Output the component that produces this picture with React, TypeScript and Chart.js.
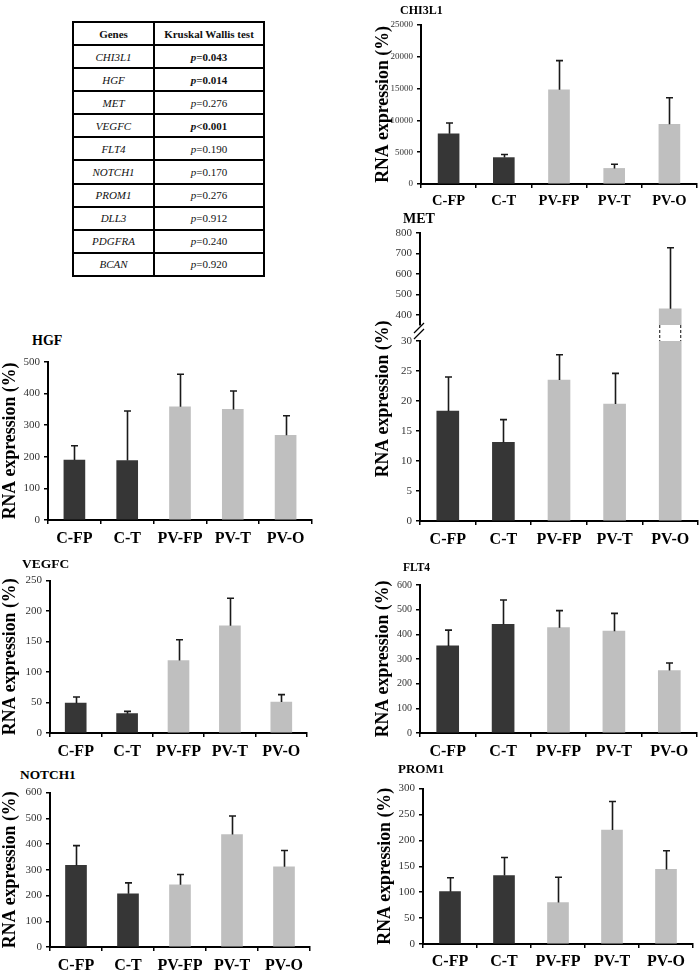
import React, { useEffect, useRef } from 'react';
import { Chart, registerables } from 'chart.js';

Chart.register(...registerables);

// ---------- data ----------
const categories = ['C-FP', 'C-T', 'PV-FP', 'PV-T', 'PV-O'];
const barColors = ['#363636', '#363636', '#bfbfbf', '#bfbfbf', '#bfbfbf'];

const chi3l1Means = [7900, 4150, 14800, 2450, 9400];
const chi3l1ErrTops = [9600, 4650, 19400, 3100, 13550];
const chi3l1Ticks = [0, 5000, 10000, 15000, 20000, 25000];

const metMeans = [18.3, 13.1, 23.5, 19.5, 429];
const metErrTops = [24, 16.9, 27.7, 24.6, 728];
const metLowerTicks = [0, 5, 10, 15, 20, 25, 30];
const metUpperTicks = [400, 500, 600, 700, 800];

const hgfMeans = [190, 188, 358, 350, 268];
const hgfErrTops = [235, 345, 461, 408, 330];
const hgfTicks = [0, 100, 200, 300, 400, 500];

const vegfcMeans = [49, 31.7, 119, 176, 50.7];
const vegfcErrTops = [59, 35.5, 153, 221, 63];
const vegfcTicks = [0, 50, 100, 150, 200, 250];

const flt4Means = [353, 441, 427, 413, 253];
const flt4ErrTops = [417, 539, 496, 485, 284];
const flt4Ticks = [0, 100, 200, 300, 400, 500, 600];

const notch1Means = [317, 207, 242, 437, 312];
const notch1ErrTops = [394, 249, 282, 509, 375];
const notch1Ticks = [0, 100, 200, 300, 400, 500, 600];

const prom1Means = [101, 132, 80, 220, 144];
const prom1ErrTops = [128, 167, 129, 275, 180];
const prom1Ticks = [0, 50, 100, 150, 200, 250, 300];

const tableGenes = ['CHI3L1', 'HGF', 'MET', 'VEGFC', 'FLT4', 'NOTCH1', 'PROM1', 'DLL3', 'PDGFRA', 'BCAN'];
const tablePValues = ['=0.043', '=0.014', '=0.276', '<0.001', '=0.190', '=0.170', '=0.276', '=0.912', '=0.240', '=0.920'];
const tableSignificant = [true, true, false, true, false, false, false, false, false, false];

const yTitleText = 'RNA expression (%)';

// ---------- layout ----------
const FONT = '"Liberation Serif", "Times New Roman", Times, serif';
const Y_TITLE_SIZE = 17.8;

type Spec = {
  id: string;
  left: number; top: number; width: number; height: number;
  axisX: number; plotRight: number; plotTop: number; plotBottom: number;
  yMin: number; yMax: number; ticks: number[];
  means: (number | null)[]; errs: (number | null)[];
  tickFont: number; xFont: number; xPad: number; showX: boolean;
  yTitle: boolean; yTitleX: number;
  barThickness: number;
  extra?: any;
};

const MET_GAP = 16;
const MET_TITLE_X = 383;
const MET_TITLE_Y = 399;

const metBreakPlugin = (canvasLeft: number, canvasTop: number) => ({
  id: 'metBreak',
  afterDraw(chart: any) {
    const { ctx, chartArea } = chart;
    const meta = chart.getDatasetMeta(0);
    const bar: any = meta.data[4];
    const gapTop = chartArea.top - MET_GAP;
    const half = bar.width / 2;
    ctx.save();
    ctx.strokeStyle = '#333';
    ctx.lineWidth = 1.2;
    ctx.setLineDash([3, 2]);
    [bar.x - half + 0.5, bar.x + half - 0.5].forEach((x: number) => {
      ctx.beginPath();
      ctx.moveTo(x, gapTop);
      ctx.lineTo(x, chartArea.top);
      ctx.stroke();
    });
    ctx.setLineDash([]);
    const ax = chartArea.left;
    ctx.strokeStyle = '#000';
    ctx.lineWidth = 1.2;
    [[8, -2], [14, 4]].forEach(([a, b]) => {
      ctx.beginPath();
      ctx.moveTo(ax - 6, gapTop + a);
      ctx.lineTo(ax + 4, gapTop + b);
      ctx.stroke();
    });
    ctx.font = `bold ${Y_TITLE_SIZE}px ${FONT}`;
    ctx.fillStyle = '#000';
    ctx.textAlign = 'center';
    ctx.textBaseline = 'middle';
    ctx.translate(MET_TITLE_X - canvasLeft, MET_TITLE_Y - canvasTop);
    ctx.rotate(-Math.PI / 2);
    ctx.fillText(yTitleText, 0, 0);
    ctx.restore();
  },
});

const specs: Spec[] = [
  {
    id: 'chi3l1', left: 360, top: 0, width: 340, height: 215,
    axisX: 421, plotRight: 697, plotTop: 25, plotBottom: 184,
    yMin: 0, yMax: 25000, ticks: chi3l1Ticks,
    means: chi3l1Means, errs: chi3l1ErrTops,
    tickFont: 9, xFont: 14.5, xPad: 5, showX: true,
    yTitle: true, yTitleX: 383, barThickness: 21,
  },
  {
    id: 'metUpper', left: 360, top: 222, width: 340, height: 123,
    axisX: 420, plotRight: 698, plotTop: 233, plotBottom: 325,
    yMin: 350, yMax: 800, ticks: metUpperTicks,
    means: metMeans.map((v) => (v > 350 ? v : null)),
    errs: metErrTops.map((v) => (v > 350 ? v : null)),
    tickFont: 11, xFont: 16, xPad: 5, showX: false,
    yTitle: false, yTitleX: 383, barThickness: 22,
  },
  {
    id: 'metLower', left: 360, top: 222, width: 340, height: 338,
    axisX: 420, plotRight: 698, plotTop: 341, plotBottom: 521,
    yMin: 0, yMax: 30, ticks: metLowerTicks,
    means: metMeans, errs: metErrTops.map((v) => (v <= 30 ? v : null)),
    tickFont: 11, xFont: 16, xPad: 5, showX: true,
    yTitle: false, yTitleX: 383, barThickness: 22,
    extra: metBreakPlugin(360, 222),
  },
  {
    id: 'hgf', left: 0, top: 350, width: 340, height: 210,
    axisX: 48, plotRight: 312, plotTop: 362, plotBottom: 520,
    yMin: 0, yMax: 500, ticks: hgfTicks,
    means: hgfMeans, errs: hgfErrTops,
    tickFont: 11, xFont: 16, xPad: 5, showX: true,
    yTitle: true, yTitleX: 10, barThickness: 21,
  },
  {
    id: 'vegfc', left: 0, top: 570, width: 340, height: 195,
    axisX: 50, plotRight: 307, plotTop: 580, plotBottom: 733,
    yMin: 0, yMax: 250, ticks: vegfcTicks,
    means: vegfcMeans, errs: vegfcErrTops,
    tickFont: 11, xFont: 16, xPad: 5, showX: true,
    yTitle: true, yTitleX: 10, barThickness: 21,
  },
  {
    id: 'flt4', left: 360, top: 575, width: 340, height: 190,
    axisX: 420, plotRight: 697, plotTop: 585, plotBottom: 733,
    yMin: 0, yMax: 600, ticks: flt4Ticks,
    means: flt4Means, errs: flt4ErrTops,
    tickFont: 10, xFont: 16, xPad: 5, showX: true,
    yTitle: true, yTitleX: 383, barThickness: 22,
  },
  {
    id: 'notch1', left: 0, top: 782, width: 340, height: 194,
    axisX: 50, plotRight: 310, plotTop: 792, plotBottom: 947,
    yMin: 0, yMax: 600, ticks: notch1Ticks,
    means: notch1Means, errs: notch1ErrTops,
    tickFont: 11, xFont: 16, xPad: 5, showX: true,
    yTitle: true, yTitleX: 10, barThickness: 21,
  },
  {
    id: 'prom1', left: 360, top: 778, width: 340, height: 198,
    axisX: 423, plotRight: 693, plotTop: 788, plotBottom: 944,
    yMin: 0, yMax: 300, ticks: prom1Ticks,
    means: prom1Means, errs: prom1ErrTops,
    tickFont: 11, xFont: 16, xPad: 4.5, showX: true,
    yTitle: true, yTitleX: 385, barThickness: 21,
  },
];

const geneTitles = [
  { text: 'CHI3L1', x: 400, y: 10, size: 12 },
  { text: 'MET', x: 403, y: 219, size: 14 },
  { text: 'HGF', x: 32, y: 341, size: 14 },
  { text: 'VEGFC', x: 22, y: 564, size: 13.5 },
  { text: 'FLT4', x: 403, y: 568, size: 11.5 },
  { text: 'NOTCH1', x: 20, y: 775, size: 13.4 },
  { text: 'PROM1', x: 398, y: 768, size: 13 },
];

const errorBarPlugin = (errs: (number | null)[]) => ({
  id: 'errorBars',
  afterDatasetsDraw(chart: any) {
    const meta = chart.getDatasetMeta(0);
    const yScale = chart.scales.y;
    const ctx = chart.ctx;
    ctx.save();
    ctx.strokeStyle = '#1a1a1a';
    ctx.lineWidth = 1.6;
    meta.data.forEach((bar: any, i: number) => {
      const e = errs[i];
      if (e == null || !isFinite(bar.y)) return;
      const x = Math.round(bar.x) + 0.5;
      const y0 = bar.y;
      const y1 = yScale.getPixelForValue(e);
      ctx.beginPath();
      ctx.moveTo(x, y0);
      ctx.lineTo(x, y1);
      ctx.moveTo(x - 3.5, y1);
      ctx.lineTo(x + 3.5, y1);
      ctx.stroke();
    });
    ctx.restore();
  },
});

function buildChart(canvas: HTMLCanvasElement, s: Spec) {
  const padTop = s.plotTop - s.top;
  const padRight = s.left + s.width - s.plotRight;
  const yW = s.axisX - s.left;
  const xH = s.top + s.height - s.plotBottom;
  const titlePad = Math.max(0, s.yTitleX - s.left - Y_TITLE_SIZE * 1.2 / 2);
  const plugins: any[] = [errorBarPlugin(s.errs)];
  if (s.extra) plugins.push(s.extra);
  return new Chart(canvas, {
    type: 'bar',
    data: {
      labels: categories,
      datasets: [
        {
          data: s.means as any,
          backgroundColor: barColors,
          barThickness: s.barThickness,
          borderWidth: 0,
          clip: 0 as any,
        },
      ],
    },
    options: {
      animation: false,
      responsive: false,
      maintainAspectRatio: false,
      events: [],
      layout: { padding: { top: padTop, right: padRight, left: 0, bottom: s.showX ? 0 : xH } },
      plugins: { legend: { display: false }, tooltip: { enabled: false }, title: { display: false } },
      scales: {
        x: {
          display: s.showX,
          offset: true,
          grid: { display: true, drawOnChartArea: false, drawTicks: true, tickLength: 4, color: '#000', lineWidth: 1.5, offset: true },
          border: { display: true, color: '#000', width: 2 },
          ticks: { color: '#000', font: { family: FONT, size: s.xFont, weight: 'bold' }, padding: s.xPad, maxRotation: 0, autoSkip: false },
          afterFit: (sc: any) => { sc.height = s.showX ? xH : 0; },
        },
        y: {
          min: s.yMin,
          max: s.yMax,
          afterBuildTicks: (axis: any) => { axis.ticks = s.ticks.map((v) => ({ value: v })); },
          ticks: {
            color: '#333',
            font: { family: FONT, size: s.tickFont },
            padding: 4,
            callback: (v: any) => String(v),
          },
          grid: { display: true, drawOnChartArea: false, drawTicks: true, tickLength: 4, color: '#000', lineWidth: 1.5 },
          border: { display: true, color: '#000', width: 2 },
          title: {
            display: s.yTitle,
            text: yTitleText,
            color: '#000',
            font: { family: FONT, size: Y_TITLE_SIZE, weight: 'bold' },
            padding: { top: titlePad, bottom: 0 },
          },
          afterFit: (sc: any) => { sc.width = yW; },
        },
      },
    } as any,
    plugins,
  });
}

const cellStyle: React.CSSProperties = {
  border: '2px solid #000',
  textAlign: 'center',
  verticalAlign: 'middle',
  padding: 0,
  whiteSpace: 'nowrap',
};

export default function App() {
  const refs = useRef<(HTMLCanvasElement | null)[]>([]);

  useEffect(() => {
    const charts = specs.map((s, i) => buildChart(refs.current[i] as HTMLCanvasElement, s));
    return () => charts.forEach((c) => c.destroy());
  }, []);

  return (
    <div style={{ position: 'absolute', left: 0, top: 0, width: 700, height: 976, background: '#fff', overflow: 'hidden' }}>
      <table
        style={{
          position: 'absolute', left: 72, top: 21, width: 191, height: 256,
          borderCollapse: 'collapse', tableLayout: 'fixed',
          fontFamily: FONT, fontSize: 11, color: '#111',
        }}
      >
        <colgroup>
          <col style={{ width: 81 }} />
          <col style={{ width: 110 }} />
        </colgroup>
        <tbody>
          <tr>
            <td style={{ ...cellStyle, fontWeight: 'bold' }}>Genes</td>
            <td style={{ ...cellStyle, fontWeight: 'bold' }}>Kruskal Wallis test</td>
          </tr>
          {tableGenes.map((g, i) => (
            <tr key={g}>
              <td style={{ ...cellStyle, fontStyle: 'italic' }}>{g}</td>
              <td style={{ ...cellStyle, fontWeight: tableSignificant[i] ? 'bold' : 'normal' }}>
                <i>p</i>{tablePValues[i]}
              </td>
            </tr>
          ))}
        </tbody>
      </table>

      {specs.map((s, i) => (
        <canvas
          key={s.id}
          ref={(el) => { refs.current[i] = el; }}
          width={s.width}
          height={s.height}
          style={{ position: 'absolute', left: s.left, top: s.top, width: s.width, height: s.height }}
        />
      ))}

      {geneTitles.map((t) => (
        <div
          key={t.text}
          style={{
            position: 'absolute', left: t.x, top: t.y - t.size / 2,
            fontFamily: FONT, fontWeight: 'bold', fontSize: t.size, lineHeight: 1,
            color: '#000', whiteSpace: 'nowrap',
          }}
        >
          {t.text}
        </div>
      ))}
    </div>
  );
}
